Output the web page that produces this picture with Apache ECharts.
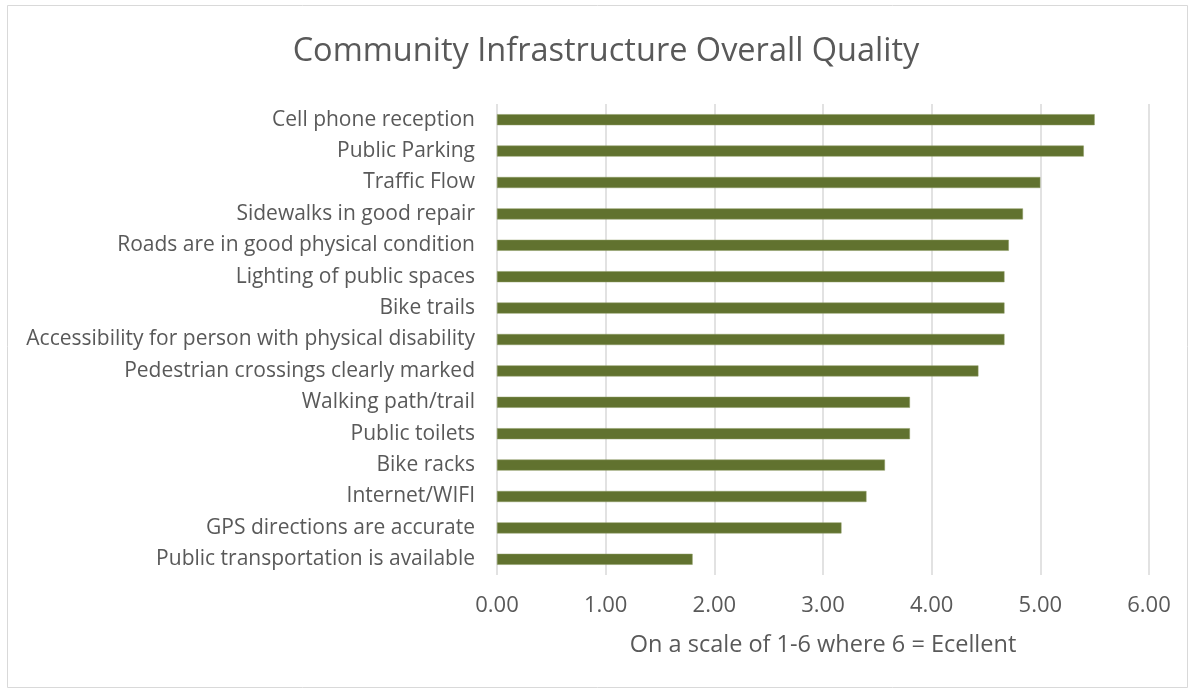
<!DOCTYPE html>
<html>
<head>
<meta charset="utf-8">
<script src="https://cdn.jsdelivr.net/npm/echarts@6/dist/echarts.min.js"></script>
<style>
html,body{margin:0;padding:0;background:#fff;}
#chart{width:1193px;height:692px;}
</style>
</head>
<body>
<div id="chart"></div>
<script>
const categories = [
  "Cell phone reception",
  "Public Parking",
  "Traffic Flow",
  "Sidewalks in good repair",
  "Roads are in good physical condition",
  "Lighting of public spaces",
  "Bike trails",
  "Accessibility for person with physical disability",
  "Pedestrian crossings clearly marked",
  "Walking path/trail",
  "Public toilets",
  "Bike racks",
  "Internet/WIFI",
  "GPS directions are accurate",
  "Public transportation is available"
];
const values = [5.50, 5.40, 5.00, 4.84, 4.71, 4.67, 4.67, 4.67, 4.43, 3.80, 3.80, 3.57, 3.40, 3.17, 1.80];
const xTicks = [0, 1, 2, 3, 4, 5, 6];

const font = "'Open Sans', 'Liberation Sans', sans-serif";
const chart = echarts.init(document.getElementById('chart'), null, {renderer: 'canvas'});
chart.setOption({
  animation: false,
  backgroundColor: '#ffffff',
  graphic: [{
    type: 'rect',
    shape: {x: 7.5, y: 5.5, width: 1180, height: 682},
    style: {fill: 'none', stroke: '#d9d9d9', lineWidth: 1}
  }],
  title: {
    text: 'Community Infrastructure Overall Quality',
    left: 601, top: 30, textAlign: 'center',
    textStyle: {fontFamily: font, fontSize: 32.5, fontWeight: 'normal', color: '#595959'}
  },
  grid: {left: 497, right: 44, top: 104, bottom: 117, containLabel: false},
  xAxis: {
    type: 'value',
    min: xTicks[0], max: xTicks[xTicks.length - 1], interval: 1,
    name: 'On a scale of 1-6 where 6 = Ecellent',
    nameLocation: 'middle', nameGap: 58,
    nameTextStyle: {fontFamily: font, fontSize: 23.5, color: '#595959'},
    axisLine: {show: false},
    axisTick: {show: false},
    axisLabel: {fontFamily: font, fontSize: 22, color: '#595959', margin: 20,
      formatter: v => v.toFixed(2)},
    splitLine: {show: true, lineStyle: {color: '#d9d9d9', width: 1.5}}
  },
  yAxis: {
    type: 'category', data: categories, inverse: true,
    axisLine: {show: false},
    axisTick: {show: false},
    axisLabel: {fontFamily: font, fontSize: 21, color: '#595959', margin: 22, padding: [4, 0, 0, 0]}
  },
  series: [{
    type: 'bar',
    data: values,
    barWidth: 11,
    itemStyle: {color: '#61722f', borderColor: '#8c9a63', borderWidth: 0.5}
  }]
});
</script>
</body>
</html>
